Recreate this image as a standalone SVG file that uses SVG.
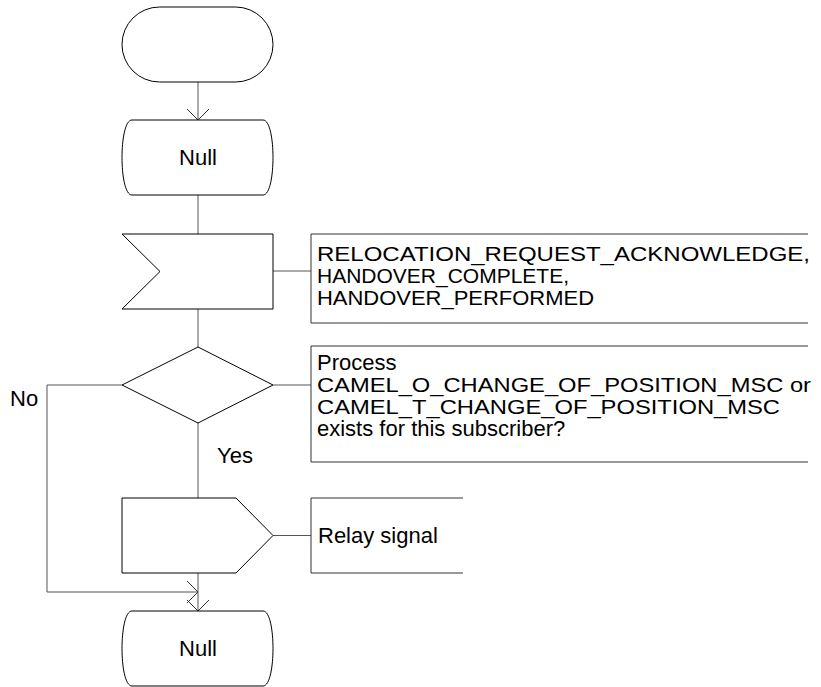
<svg xmlns="http://www.w3.org/2000/svg" width="821" height="687" viewBox="0 0 821 687">
<style>
.shape{fill:#fff;stroke:#000;stroke-width:1}
.conn{fill:none;stroke:#555;stroke-width:1}
.cmt{fill:none;stroke:#333;stroke-width:1}
.t{font-family:"Liberation Sans",Arial,sans-serif;font-size:22px;fill:#000}
.c{font-family:"Liberation Sans",Arial,sans-serif;font-size:21px;fill:#000}
</style>
<defs>
<marker id="arr" markerUnits="userSpaceOnUse" markerWidth="24" markerHeight="24" refX="12" refY="12" orient="auto" viewBox="0 0 24 24">
<path d="M1,1 L12,12 L1,23" fill="none" stroke="#333" stroke-width="1"/>
</marker>
</defs>
<g id="connectors">
<path class="conn" d="M198,82 V120" marker-end="url(#arr)"/>
<path class="conn" d="M198,195 V234"/>
<path class="conn" d="M273,271 H311"/>
<path class="conn" d="M198,309 V347"/>
<path class="conn" d="M273,385 H311"/>
<path class="conn" d="M122,385 H47 V592 H198" marker-end="url(#arr)"/>
<path class="conn" d="M198,423 V498"/>
<path class="conn" d="M273,535.5 H311"/>
<path class="conn" d="M198,573 V611" marker-end="url(#arr)"/>
</g>
<g id="start">
<rect class="shape" x="122" y="7" width="151" height="75" rx="37.5" ry="37.5"/>
</g>
<g id="null1">
<path class="shape" d="M132,120 H263 C270,120 273,140 273,157.5 C273,175 270,195 263,195 H132 C125,195 122,175 122,157.5 C122,140 125,120 132,120 Z"/>
<text class="t" x="198" y="165" text-anchor="middle">Null</text>
</g>
<g id="input">
<path class="shape" d="M122,234 H273 V309 H122 L160,271.5 Z"/>
</g>
<g id="comment1">
<path class="cmt" d="M808,234 H311 V323 H808"/>
<text class="c" x="317" y="261" textLength="493" lengthAdjust="spacingAndGlyphs">RELOCATION_REQUEST_ACKNOWLEDGE,</text>
<text class="c" x="317" y="283" textLength="252" lengthAdjust="spacingAndGlyphs">HANDOVER_COMPLETE,</text>
<text class="c" x="317" y="305" textLength="277" lengthAdjust="spacingAndGlyphs">HANDOVER_PERFORMED</text>
</g>
<g id="decision">
<path class="shape" d="M198,347 L273,385 L198,423 L122,385 Z"/>
</g>
<g id="comment2">
<path class="cmt" d="M808,346 H311 V462 H808"/>
<text class="t" x="317" y="370">Process</text>
<text class="c" x="317" y="392" textLength="494" lengthAdjust="spacingAndGlyphs">CAMEL_O_CHANGE_OF_POSITION_MSC or</text>
<text class="c" x="317" y="414" textLength="463" lengthAdjust="spacingAndGlyphs">CAMEL_T_CHANGE_OF_POSITION_MSC</text>
<text class="t" x="317" y="436">exists for this subscriber?</text>
</g>
<g id="labels">
<text class="t" x="10" y="406">No</text>
<text class="t" x="217" y="463">Yes</text>
</g>
<g id="output">
<path class="shape" d="M122,498 H236 L273,535.5 L236,573 H122 Z"/>
</g>
<g id="comment3">
<path class="cmt" d="M463,498 H311 V573 H463"/>
<text class="t" x="318" y="543">Relay signal</text>
</g>
<g id="null2">
<path class="shape" d="M132,611 H263 C270,611 273,631 273,648.5 C273,666 270,686 263,686 H132 C125,686 122,666 122,648.5 C122,631 125,611 132,611 Z"/>
<text class="t" x="198" y="656" text-anchor="middle">Null</text>
</g>
</svg>
